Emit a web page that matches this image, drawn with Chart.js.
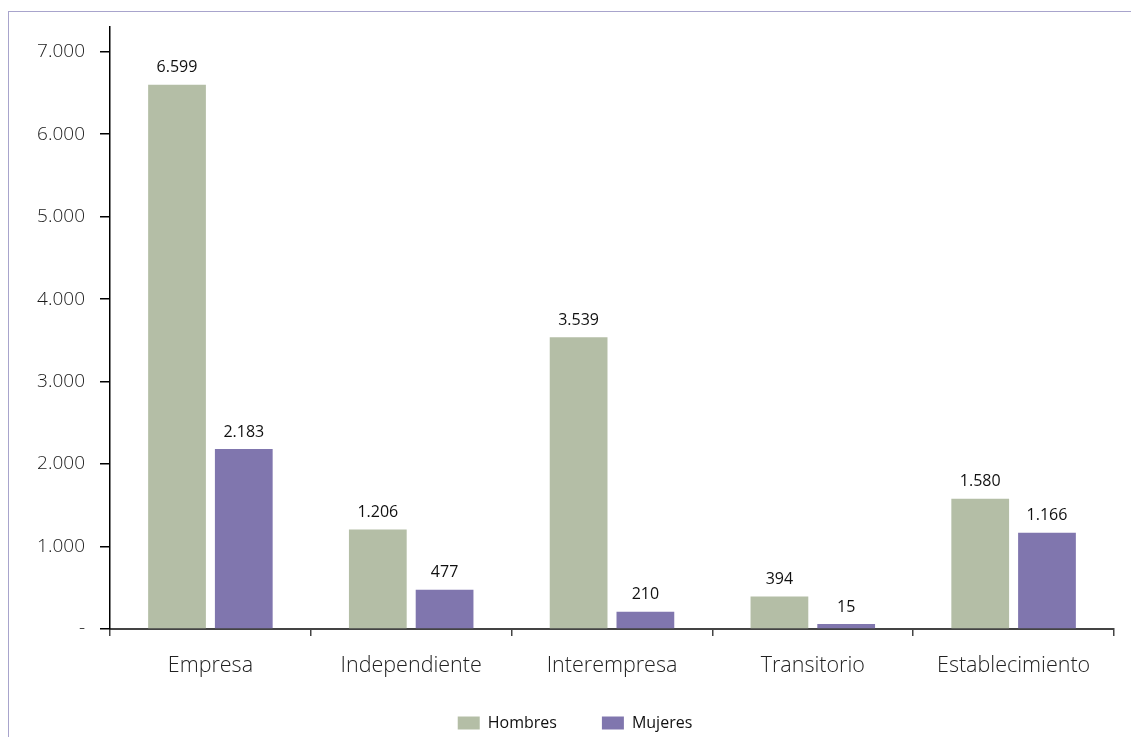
<!DOCTYPE html>
<html>
<head>
<meta charset="utf-8">
<script src="https://cdn.jsdelivr.net/npm/chart.js@4.4.0/dist/chart.umd.min.js"></script>
<style>
  html, body { margin: 0; padding: 0; background: #fff; }
  #wrap { position: relative; width: 1131px; height: 737px; overflow: hidden; }
  #frame { position: absolute; left: 8px; top: 11px; width: 2000px; height: 2000px;
           border-left: 1.5px solid #a8a4cc; border-top: 1.5px solid #a8a4cc; box-sizing: border-box; }
  canvas { position: absolute; left: 0; top: 0; }
</style>
</head>
<body>
<div id="wrap">
  <div id="frame"></div>
  <canvas id="c" width="1131" height="737"></canvas>
</div>
<script>
const categories = ['Empresa', 'Independiente', 'Interempresa', 'Transitorio', 'Establecimiento'];
const hombres = [6599, 1206, 3539, 394, 1580];
const mujeres = [2183, 477, 210, 15, 1166];
const yTicks = [0, 1000, 2000, 3000, 4000, 5000, 6000, 7000];

function fmt(v) {
  return String(Math.round(v)).replace(/\B(?=(\d{3})+(?!\d))/g, '.');
}

const valueLabels = {
  id: 'valueLabels',
  afterDatasetsDraw(chart) {
    const ctx = chart.ctx;
    ctx.save();
    ctx.font = '400 16px "Open Sans", sans-serif';
    ctx.fillStyle = '#111';
    ctx.textAlign = 'center';
    ctx.textBaseline = 'middle';
    chart.data.datasets.forEach((ds, i) => {
      const meta = chart.getDatasetMeta(i);
      meta.data.forEach((el, j) => {
        ctx.fillText(fmt(ds.data[j]), el.x, el.y - 17);
      });
    });
    ctx.restore();
  }
};

// keep the legend box compact while leaving wide spacing between its items
const LEGEND_H = 38;
const LEGEND_PAD = 45;
const legendLayout = {
  id: 'legendLayout',
  afterInit(chart) {
    const lg = chart.legend;
    const orig = lg.fit.bind(lg);
    lg.fit = function () { orig(); this.height = LEGEND_H; };
  },
  afterLayout(chart) {
    const lg = chart.legend;
    const fs = 16;
    // row centre at y = 723
    lg.top = 723 - fs / 2 - LEGEND_PAD;
    lg.bottom = chart.height;
    lg.left += 18;
    lg.right += 18;
  }
};

new Chart(document.getElementById('c'), {
  type: 'bar',
  data: {
    labels: categories,
    datasets: [
      { label: 'Hombres', data: hombres, backgroundColor: '#b4bea6', minBarLength: 5 },
      { label: 'Mujeres', data: mujeres, backgroundColor: '#8076ae', minBarLength: 5 }
    ]
  },
  options: {
    responsive: false,
    animation: false,
    devicePixelRatio: 1,
    layout: { padding: { top: 27, right: 17, left: 0, bottom: 0 } },
    datasets: { bar: { categoryPercentage: 0.665, barPercentage: 0.865 } },
    scales: {
      x: {
        grid: { offset: true, drawOnChartArea: false, drawTicks: true, tickLength: 7, color: '#444', lineWidth: 1.5 },
        border: { color: '#444', width: 2 },
        ticks: { padding: 17, color: '#222', font: { family: '"Open Sans", sans-serif', size: 21.5, weight: '300' } },
        afterFit: s => { s.height = 70; }
      },
      y: {
        min: 0, max: 7300,
        afterBuildTicks: axis => { axis.ticks = yTicks.map(v => ({ value: v })); },
        grid: { drawOnChartArea: false, drawTicks: true, tickLength: 10, color: '#000', lineWidth: 1.5 },
        border: { color: '#000', width: 1.5 },
        ticks: {
          padding: 15, color: '#1a1a1a',
          font: { family: '"Open Sans", sans-serif', size: 19, weight: '300' },
          callback: v => v === 0 ? '-' : fmt(v)
        },
        afterFit: s => { s.width = 110; }
      }
    },
    plugins: {
      legend: {
        position: 'bottom',
        labels: { boxWidth: 22, boxHeight: 13, padding: LEGEND_PAD, color: '#111',
                  font: { family: '"Open Sans", sans-serif', size: 16 } }
      },
      tooltip: { enabled: false }
    }
  },
  plugins: [valueLabels, legendLayout]
});
</script>
</body>
</html>
